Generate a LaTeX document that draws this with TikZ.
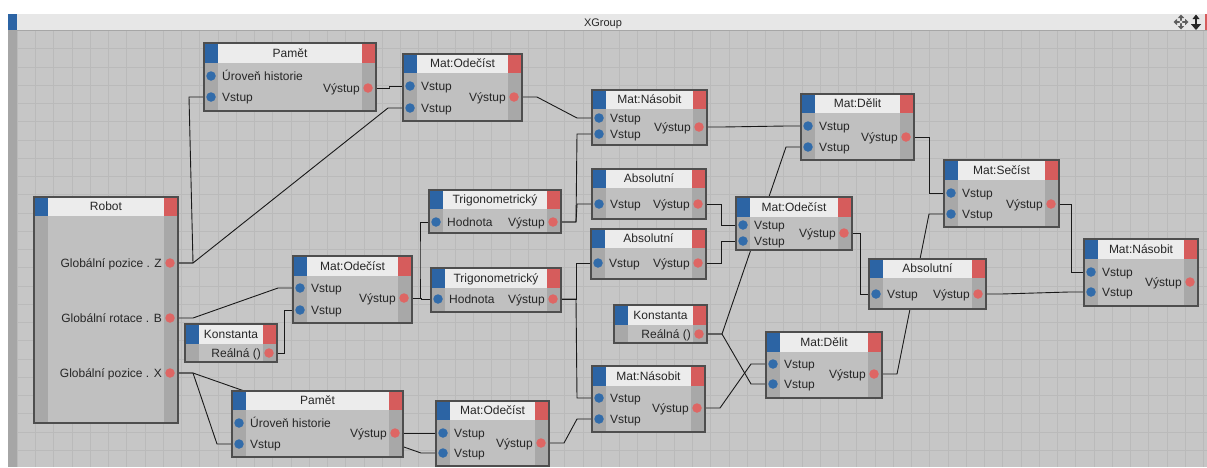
\documentclass[tikz,border=0pt]{standalone}
\usepackage{fontspec}
\setmainfont{Liberation Sans}
\usetikzlibrary{calc}
\pgfdeclarelayer{gridl}
\pgfdeclarelayer{wirel}
\pgfsetlayers{gridl,wirel,main}
\definecolor{gridbg}{RGB}{198,198,198}
\definecolor{gridln}{RGB}{186,186,186}
\definecolor{bodyc}{RGB}{192,192,192}
\definecolor{stripc}{RGB}{168,168,168}
\definecolor{headc}{RGB}{236,236,236}
\definecolor{nblue}{RGB}{44,100,164}
\definecolor{nred}{RGB}{214,92,92}
\definecolor{dotblue}{RGB}{50,108,170}
\definecolor{dotred}{RGB}{222,102,100}
\definecolor{framec}{RGB}{78,78,78}
\definecolor{wirec}{RGB}{25,25,25}
\definecolor{barc}{RGB}{231,231,231}
\definecolor{leftc}{RGB}{166,166,166}
\definecolor{iconc}{RGB}{95,95,95}

\newcommand{\xnode}[7]{%
  \fill[bodyc] (#2,#6) rectangle (#4,#5);
  \fill[stripc] (#2,#6) rectangle ({#2+14},#5);
  \fill[stripc] ({#4-14},#6) rectangle (#4,#5);
  \fill[headc] (#2,#3) rectangle (#4,#6);
  \fill[nblue] (#2,#3) rectangle ({#2+14},#6);
  \fill[nred] ({#4-14},#3) rectangle (#4,#6);
  \node[nodeframe, minimum width={#4-#2}, minimum height={#5-#3}] (#1) at ({(#2+#4)/2},{(#3+#5)/2}) {};
  \node[titletext] (#1-t) at ({(#2+#4)/2},{(#3+#6)/2+4.3}) {#7};
}
\newcommand{\portin}[4]{%
  \node[bdot] (#1) at ({#2+7},#3) {};
  \node[plabel, anchor=base west] (#1-l) at ({#2+18},{#3+4.3}) {#4};
}
\newcommand{\portout}[4]{%
  \node[rdot] (#1) at ({#2-8},#3) {};
  \node[plabel, anchor=base east] (#1-l) at ({#2-16},{#3+4.3}) {#4};
}
\newcommand{\xwire}[2]{\draw[wire] (#1.center) -- ++(23,0) -- ([xshift=-22pt]#2.center) -- (#2.center);}
\newcommand{\xwiremid}[2]{\draw[wire] (#1.center) -| ($(#1.center)!0.5!(#2.center)$) |- (#2.center);}

\begin{document}
\begin{tikzpicture}[x=1pt,y=-1pt,
  nodeframe/.style={draw=framec, line width=1.1pt, inner sep=0pt, outer sep=0pt},
  titletext/.style={anchor=base, inner sep=0pt, font=\fontsize{12}{14}\selectfont, text=black!85},
  plabel/.style={inner sep=0pt, font=\fontsize{12}{14}\selectfont, text=black!85},
  bdot/.style={circle, fill=dotblue, inner sep=0pt, minimum size=9.5pt},
  rdot/.style={circle, fill=dotred, inner sep=0pt, minimum size=9.5pt},
  wire/.style={draw=wirec, line width=0.9pt}]
\useasboundingbox (0,0) rectangle (1207,467);

\begin{pgfonlayer}{gridl}
  \fill[white] (0,0) rectangle (1207,467);
  \fill[gridbg] (17,30) rectangle (1207,467);
  \foreach \i in {0,...,65} { \draw[gridln, line width=0.8pt] ({17.3+18.25*\i},30) -- ({17.3+18.25*\i},467); }
  \foreach \j in {0,...,24} { \draw[gridln, line width=0.8pt] (17,{30.5+18.25*\j}) -- (1207,{30.5+18.25*\j}); }
  \fill[barc] (8,14) rectangle (1207,30);
  \draw[black!35, line width=0.8pt] (17,30) -- (1207,30);
  \fill[nblue] (8,14) rectangle (17,30);
  \fill[leftc] (8,30) rectangle (17,467);
  \fill[nred] (1205,14) rectangle (1207,30);
  % move icon
  \draw[iconc, line width=1.6pt] (1176,22) -- (1186,22) (1181,17) -- (1181,27);
  \fill[iconc] (1173.5,22) -- (1177,18.8) -- (1177,25.2) -- cycle;
  \fill[iconc] (1188.5,22) -- (1185,18.8) -- (1185,25.2) -- cycle;
  \fill[iconc] (1181,14.5) -- (1177.8,18) -- (1184.2,18) -- cycle;
  \fill[iconc] (1181,29.5) -- (1177.8,26) -- (1184.2,26) -- cycle;
  \fill[white!80!gray] (1181,22) circle (1.6);
  % up/down icon
  \fill[black!85] (1196,14.5) -- (1199.5,19) -- (1192.5,19) -- cycle;
  \fill[black!85] (1194.7,18) rectangle (1197.3,25);
  \fill[black!85] (1190.8,24) -- (1201.2,24) -- (1196,30) -- cycle;
\end{pgfonlayer}

\node[font=\fontsize{11}{13}\selectfont, text=black!85, anchor=base, inner sep=0pt] (title) at (603,26) {XGroup};

% ---------------- nodes ----------------
\xnode{pamA}{204}{43}{376}{111}{63}{Pamět}
\portin{pamA-i1}{204}{76}{Úroveň historie}
\portin{pamA-i2}{204}{97}{Vstup}
\portout{pamA-o}{376}{88}{Výstup}

\xnode{subA}{403}{54}{522}{121}{73}{Mat:Odečíst}
\portin{subA-i1}{403}{86}{Vstup}
\portin{subA-i2}{403}{108}{Vstup}
\portout{subA-o}{522}{97}{Výstup}

\xnode{mulA}{592}{90}{707}{145}{109}{Mat:Násobit}
\portin{mulA-i1}{592}{118}{Vstup}
\portin{mulA-i2}{592}{134}{Vstup}
\portout{mulA-o}{707}{127}{Výstup}

\xnode{divA}{801}{94}{914}{160}{113}{Mat:Dělit}
\portin{divA-i1}{801}{126}{Vstup}
\portin{divA-i2}{801}{147}{Vstup}
\portout{divA-o}{914}{137}{Výstup}

\xnode{addA}{944}{160}{1059}{227}{180}{Mat:Sečíst}
\portin{addA-i1}{944}{193}{Vstup}
\portin{addA-i2}{944}{214}{Vstup}
\portout{addA-o}{1059}{204}{Výstup}

\xnode{mulR}{1084}{239}{1198}{306}{259}{Mat:Násobit}
\portin{mulR-i1}{1084}{272}{Vstup}
\portin{mulR-i2}{1084}{292}{Vstup}
\portout{mulR-o}{1198}{282}{Výstup}

\xnode{robot}{34}{197}{178}{423}{216}{Robot}
\portout{robot-z}{178}{263}{Globální pozice . Z}
\portout{robot-b}{178}{318}{Globální rotace . B}
\portout{robot-x}{178}{373}{Globální pozice . X}

\xnode{subL}{293}{256}{412}{323}{276}{Mat:Odečíst}
\portin{subL-i1}{293}{288}{Vstup}
\portin{subL-i2}{293}{310}{Vstup}
\portout{subL-o}{412}{298}{Výstup}

\xnode{konL}{185}{324}{277}{362}{344}{Konstanta}
\portout{konL-o}{277}{353}{Reálná ()}

\xnode{pamB}{232}{391}{403}{457}{410}{Pamět}
\portin{pamB-i1}{232}{423}{Úroveň historie}
\portin{pamB-i2}{232}{444}{Vstup}
\portout{pamB-o}{403}{433}{Výstup}

\xnode{subB}{436}{401}{549}{466}{420}{Mat:Odečíst}
\portin{subB-i1}{436}{433}{Vstup}
\portin{subB-i2}{436}{453}{Vstup}
\portout{subB-o}{549}{443}{Výstup}

\xnode{trigA}{429}{190}{561}{233}{209}{Trigonometrický}
\portin{trigA-i}{429}{222}{Hodnota}
\portout{trigA-o}{561}{222}{Výstup}

\xnode{trigB}{431}{268}{561}{312}{288}{Trigonometrický}
\portin{trigB-i}{431}{299}{Hodnota}
\portout{trigB-o}{561}{299}{Výstup}

\xnode{absA}{592}{169}{706}{219}{188}{Absolutní}
\portin{absA-i}{592}{204}{Vstup}
\portout{absA-o}{706}{204}{Výstup}

\xnode{absB}{591}{229}{706}{279}{248}{Absolutní}
\portin{absB-i}{591}{263}{Vstup}
\portout{absB-o}{706}{263}{Výstup}

\xnode{subM}{736}{197}{852}{250}{217}{Mat:Odečíst}
\portin{subM-i1}{736}{225}{Vstup}
\portin{subM-i2}{736}{241}{Vstup}
\portout{subM-o}{852}{233}{Výstup}

\xnode{absR}{869}{259}{986}{309}{278}{Absolutní}
\portin{absR-i}{869}{294}{Vstup}
\portout{absR-o}{986}{294}{Výstup}

\xnode{konM}{614}{305}{707}{343}{325}{Konstanta}
\portout{konM-o}{707}{334}{Reálná ()}

\xnode{divB}{766}{332}{882}{398}{352}{Mat:Dělit}
\portin{divB-i1}{766}{364}{Vstup}
\portin{divB-i2}{766}{384}{Vstup}
\portout{divB-o}{882}{374}{Výstup}

\xnode{mulB}{592}{366}{705}{432}{386}{Mat:Násobit}
\portin{mulB-i1}{592}{398}{Vstup}
\portin{mulB-i2}{592}{419}{Vstup}
\portout{mulB-o}{705}{408}{Výstup}

% ---------------- wires ----------------
\begin{pgfonlayer}{wirel}
  \xwire{robot-z}{pamA-i2}
  \xwire{robot-z}{subA-i2}
  \xwiremid{pamA-o}{subA-i1}
  \xwire{subA-o}{mulA-i1}
  \xwire{trigA-o}{mulA-i2}
  \xwire{trigA-o}{absA-i}
  \xwire{mulA-o}{divA-i1}
  \xwire{konM-o}{divA-i2}
  \xwire{divA-o}{addA-i1}
  \xwire{divB-o}{addA-i2}
  \xwiremid{addA-o}{mulR-i1}
  \xwire{absR-o}{mulR-i2}
  \xwire{absA-o}{subM-i1}
  \xwire{absB-o}{subM-i2}
  \xwiremid{subM-o}{absR-i}
  \xwire{konM-o}{divB-i2}
  \xwire{mulB-o}{divB-i1}
  \xwire{trigB-o}{absB-i}
  \xwire{trigB-o}{mulB-i1}
  \xwire{subB-o}{mulB-i2}
  \xwiremid{pamB-o}{subB-i1}
  \xwire{robot-x}{subB-i2}
  \xwire{robot-x}{pamB-i2}
  \xwire{robot-b}{subL-i1}
  \xwiremid{konL-o}{subL-i2}
  \xwiremid{subL-o}{trigA-i}
  \xwiremid{subL-o}{trigB-i}
\end{pgfonlayer}
\end{tikzpicture}
\end{document}
